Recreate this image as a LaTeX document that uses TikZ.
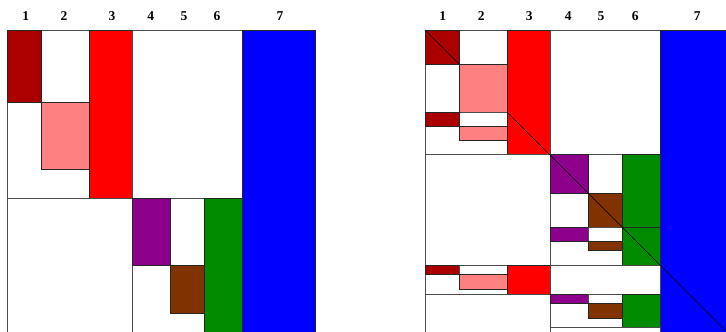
\documentclass[tikz,border=0pt]{standalone}
\usepackage{fontspec}
\setmainfont{Liberation Serif}
\usepackage{tikz}
\usetikzlibrary{positioning}
\definecolor{sndark}{RGB}{170,0,0}
\definecolor{snpink}{RGB}{255,128,128}
\definecolor{snred}{RGB}{255,0,0}
\definecolor{snpurple}{RGB}{140,0,140}
\definecolor{snbrown}{RGB}{128,51,0}
\definecolor{sngreen}{RGB}{0,139,0}
\definecolor{snblue}{RGB}{0,0,255}
\tikzstyle{lbl} = [anchor=base, inner sep=0pt, font=\fontsize{13.5}{15}\selectfont\bfseries]
\tikzstyle{empty} = [draw=gray!60!black, fill=white, line width=0.9pt]
\tikzstyle{blk} = [draw=black!85, line width=0.9pt]
\tikzstyle{diag} = [draw=black, line width=0.7pt]

\begin{document}
\begin{tikzpicture}[x=1pt, y=-1pt]
    \useasboundingbox (0,0) rectangle (726,332);
    \clip (0,0) rectangle (726,332);
    % Column labels
    \node [lbl] (a1) at (25.7,20) {1};
    \node [lbl] (a2) at (64,20) {2};
    \node [lbl] (a3) at (112,20) {3};
    \node [lbl] (a4) at (150.7,20) {4};
    \node [lbl] (a5) at (184,20) {5};
    \node [lbl] (a6) at (217,20) {6};
    \node [lbl] (a7) at (280,20) {7};
    \node [lbl] (b1) at (442.7,20) {1};
    \node [lbl] (b2) at (481.3,20) {2};
    \node [lbl] (b3) at (529.3,20) {3};
    \node [lbl] (b4) at (568.3,20) {4};
    \node [lbl] (b5) at (601,20) {5};
    \node [lbl] (b6) at (635.3,20) {6};
    \node [lbl] (b7) at (697.3,20) {7};

    % Left matrix
    \draw [empty] (7,30) rectangle (89,198);
    \draw [blk, fill=sndark] (7,30) rectangle (41,102.3);
    \draw [blk, fill=snpink] (41,102.3) rectangle (89,169.3);
    \draw [blk, fill=snred] (89,30) rectangle (132.5,198);
    \draw [empty] (132.5,30) rectangle (242,198);
    \draw [blk, fill=snblue] (242,30) rectangle (315,345);
    \draw [empty] (7,198) rectangle (132.5,345);
    \draw [empty] (132.5,198) rectangle (204,345);
    \draw [blk, fill=snpurple] (132.5,198) rectangle (170.5,265.7);
    \draw [blk, fill=snbrown] (170.5,265.7) rectangle (204,313.3);
    \draw [blk, fill=sngreen] (204,198) rectangle (242,345);

    % Right matrix
    \draw [empty] (425,30) rectangle (507,154.5);
    \draw [blk, fill=sndark] (425,30) rectangle (459,64);
    \draw [blk, fill=snpink] (459,64) rectangle (507,112);
    \draw [empty] (459,112) rectangle (507,126);
    \draw [blk, fill=sndark] (425,112) rectangle (459,126);
    \draw [blk, fill=snpink] (459,126) rectangle (507,140.3);
    \draw [blk, fill=snred] (507,30) rectangle (550,154.5);
    \draw [empty] (550,30) rectangle (660,154.5);
    \draw [blk, fill=snblue] (660,30) rectangle (740,345);
    \draw [empty] (425,154.5) rectangle (550,265.5);
    \draw [empty] (550,154.5) rectangle (622,265.5);
    \draw [blk, fill=snpurple] (550,154.5) rectangle (588.5,193.3);
    \draw [blk, fill=snbrown] (588.5,193.3) rectangle (622,227);
    \draw [blk, fill=snpurple] (550,227) rectangle (588.5,241);
    \draw [empty] (588.5,227) rectangle (622,241);
    \draw [blk, fill=snbrown] (588.5,241) rectangle (622,250);
    \draw [blk, fill=sngreen] (622,154.5) rectangle (660,265.5);
    \draw [blk] (622,227) -- (660,227);
    \draw [empty] (425,265.5) rectangle (507,294);
    \draw [blk, fill=sndark] (425,265.5) rectangle (459,274.3);
    \draw [empty] (459,265.5) rectangle (507,274.3);
    \draw [blk, fill=snpink] (459,274.3) rectangle (507,289);
    \draw [blk, fill=snred] (507,265.5) rectangle (550,294);
    \draw [empty] (550,265.5) rectangle (660,294);
    \draw [empty] (425,294) rectangle (550,345);
    \draw [empty] (550,294) rectangle (622,327.3);
    \draw [blk, fill=snpurple] (550,294) rectangle (588.5,303.3);
    \draw [empty] (588.5,294) rectangle (622,303.3);
    \draw [blk, fill=snbrown] (588.5,303.3) rectangle (622,318.3);
    \draw [blk, fill=sngreen] (622,294) rectangle (660,327.3);
    \draw [empty] (550,327.3) rectangle (660,345);

    % Diagonal
    \draw [diag] (425,30) -- (459,64);
    \draw [diag] (507,112) -- (740,345);
\end{tikzpicture}
\end{document}
